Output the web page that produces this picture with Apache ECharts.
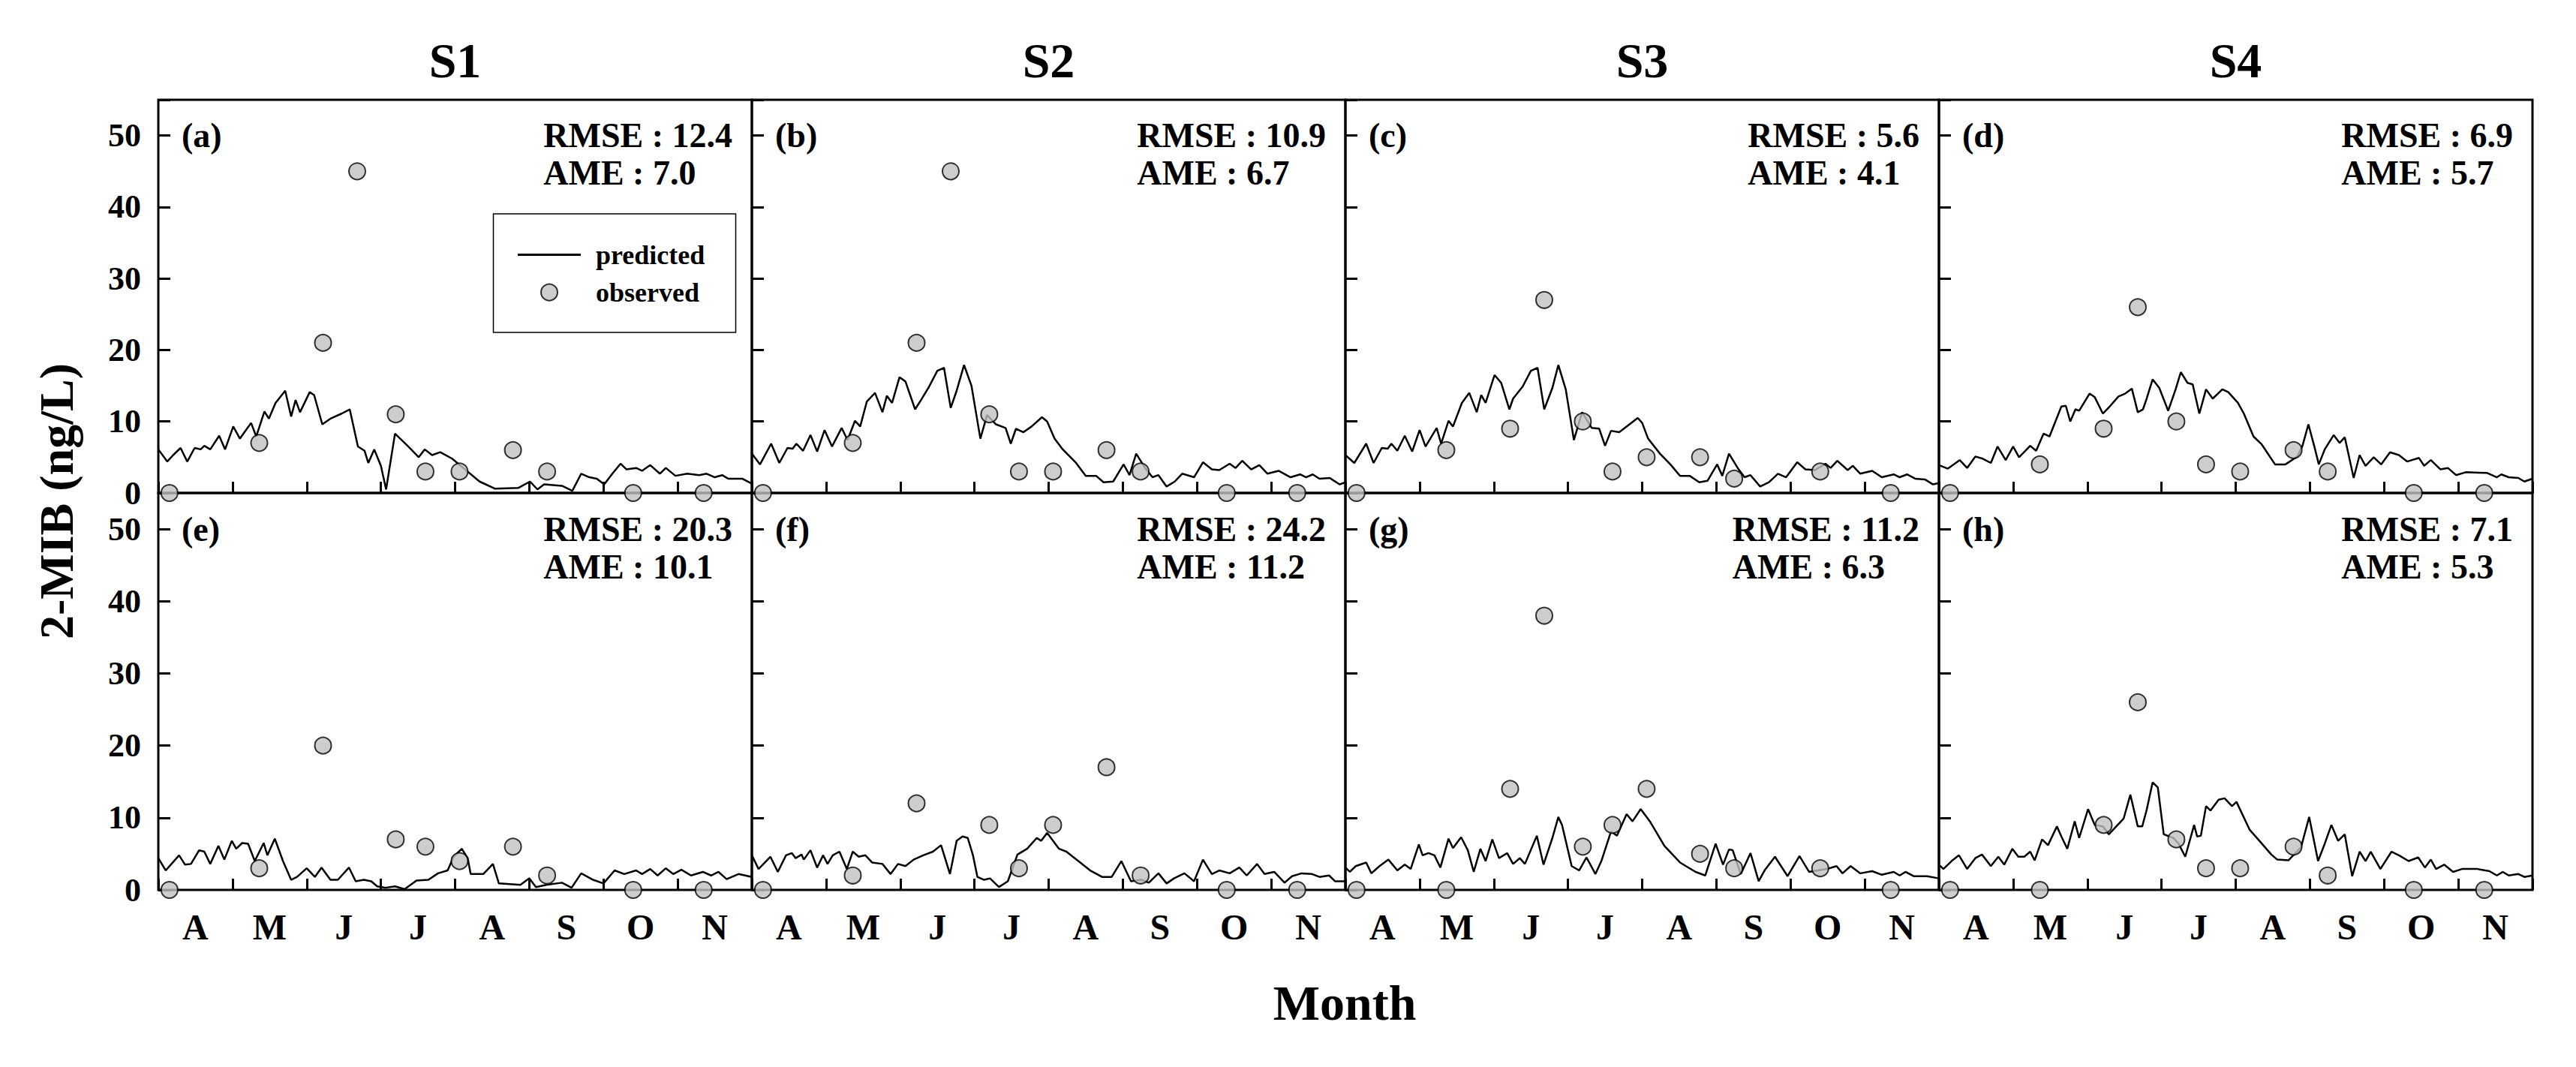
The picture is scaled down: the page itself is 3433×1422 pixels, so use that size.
<!DOCTYPE html>
<html>
<head>
<meta charset="utf-8">
<script src="https://cdn.jsdelivr.net/npm/echarts@6/dist/echarts.min.js"></script>
<style>
  html, body { margin: 0; padding: 0; background: #fff; }
  #chart { width: 3433px; height: 1422px; }
</style>
</head>
<body>
<div id="chart"></div>
<script>
// x is in month units counted from 1 April (0 = Apr 1, 8 = Nov 30)
const months = ['A', 'M', 'J', 'J', 'A', 'S', 'O', 'N'];
const sites = ['S1', 'S2', 'S3', 'S4'];
const tags = ['(a)', '(b)', '(c)', '(d)', '(e)', '(f)', '(g)', '(h)'];
const rmse = [12.4, 10.9, 5.6, 6.9, 20.3, 24.2, 11.2, 7.1];
const ame = [7.0, 6.7, 4.1, 5.7, 10.1, 11.2, 6.3, 5.3];

// sampling dates of the observations
const obsX = [0.15, 1.36, 2.22, 2.68, 3.20, 3.60, 4.06, 4.78, 5.24, 6.40, 7.35];
const obsA = [0, 7, 21, 45, 11, 3, 3, 6, 3, 0, 0];
const obsB = [0, 7, 21, 45, 11, 3, 3, 6, 3, 0, 0];
const obsC = [0, 6, 9, 27, 10, 3, 5, 5, 2, 3, 0];
const obsD = [0, 4, 9, 26, 10, 4, 3, 6, 3, 0, 0];
const obsE = [0, 3, 20, null, 7, 6, 4, 6, 2, 0, 0];
const obsF = [0, 2, 12, null, 9, 3, 9, 17, 2, 0, 0];
const obsG = [0, 0, 14, 38, 6, 9, 14, 5, 3, 3, 0];
const obsH = [0, 0, 9, 26, 7, 3, 3, 6, 2, 0, 0];

const predA = [[0.00,6.1],[0.12,4.4],[0.20,5.3],[0.30,6.3],[0.39,4.4],[0.49,6.3],[0.57,6.1],[0.62,6.6],[0.70,6.1],[0.82,8.0],[0.90,6.1],[1.01,9.3],[1.10,7.6],[1.25,9.8],[1.32,7.9],[1.43,11.4],[1.49,10.4],[1.58,12.6],[1.71,14.3],[1.79,10.7],[1.85,13.0],[1.91,11.3],[2.04,14.1],[2.10,13.7],[2.21,9.6],[2.32,10.4],[2.47,11.1],[2.58,11.7],[2.69,6.5],[2.78,5.9],[2.83,4.2],[2.91,6.1],[3.00,3.8],[3.07,0.5],[3.19,8.3],[3.37,6.5],[3.51,5.0],[3.59,6.1],[3.69,5.3],[3.80,5.7],[3.96,4.8],[4.11,3.5],[4.33,1.6],[4.54,0.6],[4.85,0.7],[5.01,1.6],[5.11,0.5],[5.20,1.2],[5.44,1.0],[5.58,0.3],[5.70,2.7],[5.81,2.2],[5.91,2.0],[6.01,1.2],[6.12,2.7],[6.23,4.1],[6.31,3.3],[6.44,3.5],[6.52,3.1],[6.63,3.9],[6.76,2.7],[6.84,3.5],[6.97,2.4],[7.13,2.7],[7.29,2.5],[7.39,2.7],[7.50,2.2],[7.60,2.5],[7.68,2.0],[7.87,2.0],[8.00,1.3]];
const predB = [[0.00,5.5],[0.11,4.0],[0.26,6.9],[0.37,4.2],[0.48,6.3],[0.55,6.2],[0.60,6.9],[0.69,5.9],[0.79,8.1],[0.88,5.8],[0.98,8.8],[1.08,6.5],[1.21,9.1],[1.29,7.4],[1.39,10.1],[1.46,9.3],[1.55,12.8],[1.66,14.0],[1.76,11.3],[1.82,13.6],[1.89,12.6],[1.99,16.2],[2.07,15.6],[2.20,11.7],[2.28,13.0],[2.39,14.9],[2.50,17.1],[2.59,17.5],[2.68,11.9],[2.76,14.3],[2.86,17.9],[2.96,15.0],[3.08,7.6],[3.17,10.9],[3.29,9.6],[3.42,9.1],[3.49,6.9],[3.56,9.0],[3.66,8.5],[3.77,9.3],[3.91,10.6],[3.98,10.0],[4.08,7.6],[4.19,6.1],[4.37,4.2],[4.50,2.4],[4.64,2.4],[4.74,1.5],[4.87,1.6],[5.01,4.0],[5.09,2.5],[5.18,5.5],[5.30,3.5],[5.40,2.2],[5.48,2.5],[5.59,0.9],[5.70,1.6],[5.80,2.7],[5.96,2.2],[6.08,4.3],[6.20,3.3],[6.30,3.2],[6.44,4.1],[6.52,3.5],[6.61,4.5],[6.73,3.3],[6.84,3.9],[6.95,2.7],[7.10,3.1],[7.26,2.2],[7.39,2.6],[7.47,2.2],[7.56,2.6],[7.65,2.0],[7.79,2.1],[7.92,1.2],[8.00,1.5]];
const predC = [[0.00,5.3],[0.12,4.2],[0.28,6.9],[0.38,4.2],[0.49,6.3],[0.57,6.2],[0.62,6.9],[0.70,5.9],[0.80,8.0],[0.90,5.8],[1.00,8.8],[1.08,6.5],[1.23,9.1],[1.29,6.9],[1.39,10.1],[1.45,9.3],[1.57,12.6],[1.67,14.0],[1.77,11.3],[1.83,13.7],[1.89,12.6],[2.01,16.5],[2.10,15.4],[2.21,11.7],[2.26,13.2],[2.39,14.9],[2.50,17.1],[2.59,17.5],[2.68,11.7],[2.79,14.7],[2.87,17.9],[2.97,14.5],[3.08,7.4],[3.19,11.3],[3.32,9.1],[3.42,9.0],[3.50,6.6],[3.58,8.7],[3.69,8.5],[3.79,9.3],[3.94,10.5],[4.00,9.8],[4.08,7.6],[4.24,5.5],[4.38,4.0],[4.51,2.4],[4.64,2.4],[4.77,1.5],[4.88,1.7],[5.01,4.0],[5.08,2.4],[5.17,5.5],[5.30,3.3],[5.38,2.2],[5.46,2.5],[5.59,0.9],[5.71,1.5],[5.83,2.7],[5.94,2.2],[6.09,4.3],[6.20,3.3],[6.33,3.2],[6.47,4.1],[6.54,3.5],[6.63,4.5],[6.77,3.2],[6.84,3.8],[6.94,2.7],[7.10,3.1],[7.23,2.2],[7.39,2.6],[7.47,2.2],[7.57,2.6],[7.68,2.0],[7.81,1.9],[7.92,1.2],[8.00,1.4]];
const predD = [[0.00,3.9],[0.12,3.4],[0.28,4.6],[0.38,3.5],[0.49,5.1],[0.59,4.8],[0.70,4.2],[0.79,6.5],[0.90,4.6],[1.00,6.5],[1.08,5.0],[1.23,6.6],[1.31,5.9],[1.41,8.3],[1.49,7.9],[1.65,12.1],[1.71,12.2],[1.77,10.0],[1.84,11.7],[1.89,11.5],[2.03,13.9],[2.10,13.4],[2.21,11.1],[2.31,12.2],[2.42,13.5],[2.51,13.9],[2.60,14.6],[2.68,11.3],[2.75,11.7],[2.80,13.2],[2.88,15.9],[2.97,14.7],[3.09,11.5],[3.19,14.5],[3.26,16.9],[3.35,15.4],[3.42,15.2],[3.51,11.1],[3.60,14.5],[3.69,13.2],[3.82,14.5],[3.90,14.1],[4.03,12.6],[4.11,11.1],[4.24,7.9],[4.35,6.8],[4.53,4.0],[4.67,4.0],[4.83,5.1],[4.90,6.6],[4.98,9.6],[5.06,6.5],[5.12,4.0],[5.20,6.1],[5.32,8.1],[5.40,7.0],[5.47,7.8],[5.59,2.1],[5.67,5.3],[5.75,3.8],[5.86,5.0],[5.96,4.0],[6.08,5.7],[6.20,5.3],[6.31,4.4],[6.47,4.9],[6.54,3.8],[6.63,4.6],[6.76,3.3],[6.86,3.5],[6.97,2.5],[7.10,2.9],[7.39,2.8],[7.52,2.2],[7.58,2.6],[7.68,2.2],[7.81,2.1],[7.89,1.6],[8.00,2.0]];
const predE = [[0.00,4.4],[0.10,2.7],[0.28,4.8],[0.36,3.5],[0.44,3.6],[0.55,5.5],[0.62,5.3],[0.70,3.6],[0.81,6.1],[0.89,4.2],[0.99,6.8],[1.05,5.7],[1.13,6.5],[1.21,6.4],[1.30,4.0],[1.42,6.5],[1.47,4.8],[1.57,7.1],[1.68,4.0],[1.79,1.4],[1.87,1.8],[2.00,3.0],[2.11,1.8],[2.20,3.1],[2.32,1.4],[2.42,1.4],[2.57,3.1],[2.66,1.2],[2.77,1.4],[2.87,1.2],[2.95,0.5],[3.06,0.3],[3.19,0.5],[3.32,0.1],[3.48,1.3],[3.64,1.4],[3.77,2.3],[3.90,2.7],[3.98,4.6],[4.09,5.7],[4.17,4.4],[4.21,2.2],[4.38,2.2],[4.51,3.6],[4.59,0.9],[4.88,0.7],[5.00,1.6],[5.09,0.4],[5.23,0.7],[5.44,1.0],[5.57,0.3],[5.70,2.3],[5.86,1.4],[6.00,0.9],[6.15,2.7],[6.28,2.2],[6.44,2.7],[6.52,2.2],[6.63,2.9],[6.73,2.0],[6.84,3.0],[6.94,2.2],[7.05,2.8],[7.18,2.0],[7.34,2.5],[7.45,2.0],[7.55,2.5],[7.66,1.5],[7.82,2.2],[8.00,1.8]];
const predF = [[0.00,4.8],[0.09,2.9],[0.25,4.6],[0.35,2.5],[0.46,4.8],[0.54,5.1],[0.59,4.4],[0.67,4.9],[0.70,4.2],[0.79,5.5],[0.88,3.1],[0.96,4.8],[1.02,3.6],[1.09,4.8],[1.18,5.3],[1.28,2.9],[1.36,5.3],[1.44,4.6],[1.53,4.8],[1.62,3.8],[1.76,3.6],[1.87,2.2],[1.97,3.6],[2.07,3.3],[2.18,4.2],[2.31,4.8],[2.44,5.3],[2.55,6.2],[2.67,2.2],[2.76,6.8],[2.84,7.4],[2.91,7.2],[2.98,4.8],[3.04,1.8],[3.13,1.4],[3.21,1.6],[3.33,0.4],[3.45,1.2],[3.58,4.9],[3.71,5.7],[3.84,7.2],[3.90,6.8],[3.98,7.9],[4.14,5.7],[4.24,5.3],[4.40,4.0],[4.56,2.7],[4.72,1.8],[4.85,1.8],[4.98,4.0],[5.11,1.2],[5.25,1.4],[5.35,1.0],[5.48,2.3],[5.59,0.9],[5.69,1.6],[5.83,2.3],[5.96,1.2],[6.08,4.2],[6.20,2.2],[6.30,2.7],[6.44,2.3],[6.57,3.1],[6.67,2.0],[6.81,3.6],[6.91,2.2],[7.04,2.5],[7.18,1.0],[7.28,1.9],[7.41,2.3],[7.55,2.2],[7.65,1.8],[7.78,2.0],[7.86,1.2],[8.00,1.2]];
const predG = [[0.00,3.1],[0.06,2.5],[0.14,3.3],[0.28,3.8],[0.35,2.3],[0.46,3.3],[0.58,4.2],[0.70,2.7],[0.80,3.5],[0.88,2.9],[0.99,6.3],[1.04,4.8],[1.12,5.1],[1.20,4.8],[1.28,3.1],[1.39,7.1],[1.45,5.8],[1.56,7.3],[1.65,5.5],[1.73,2.5],[1.82,5.7],[1.89,4.0],[1.98,7.0],[2.07,4.4],[2.18,5.1],[2.26,3.6],[2.35,4.4],[2.42,3.6],[2.58,7.5],[2.67,3.5],[2.79,7.2],[2.87,10.1],[2.92,9.0],[3.05,3.3],[3.15,2.7],[3.25,4.5],[3.37,2.2],[3.45,4.0],[3.58,8.1],[3.66,7.5],[3.79,10.5],[3.87,9.5],[3.98,11.2],[4.11,9.4],[4.30,6.1],[4.51,3.8],[4.72,2.5],[4.85,2.0],[4.99,6.4],[5.09,3.5],[5.17,5.6],[5.22,5.5],[5.33,2.2],[5.46,5.1],[5.57,1.2],[5.65,2.7],[5.79,4.6],[5.96,1.9],[6.12,4.7],[6.25,2.5],[6.49,2.9],[6.62,3.3],[6.70,2.3],[6.81,3.3],[6.94,2.3],[7.10,2.6],[7.23,2.1],[7.39,2.5],[7.47,2.0],[7.55,2.5],[7.66,1.9],[7.84,1.9],[8.00,1.6]];
const predH = [[0.00,3.5],[0.06,2.9],[0.17,4.0],[0.27,4.8],[0.38,2.9],[0.49,4.4],[0.58,4.9],[0.70,3.3],[0.80,4.6],[0.88,3.5],[0.99,5.7],[1.07,4.6],[1.15,4.6],[1.23,5.3],[1.29,4.1],[1.39,7.0],[1.47,6.2],[1.59,8.8],[1.65,7.4],[1.73,5.7],[1.83,9.5],[1.89,7.2],[2.01,11.2],[2.10,9.0],[2.21,8.8],[2.29,7.7],[2.39,8.8],[2.49,9.9],[2.58,13.2],[2.68,8.8],[2.74,8.8],[2.80,11.1],[2.88,14.9],[2.95,14.2],[3.03,7.7],[3.16,7.2],[3.23,6.4],[3.32,4.6],[3.44,9.0],[3.48,7.4],[3.53,7.5],[3.60,11.6],[3.66,11.0],[3.77,12.5],[3.85,12.7],[3.95,11.6],[4.01,12.2],[4.19,8.3],[4.32,6.8],[4.48,4.9],[4.56,4.2],[4.71,4.1],[4.88,5.9],[4.99,10.1],[5.11,4.0],[5.20,6.4],[5.29,9.0],[5.38,6.8],[5.47,7.7],[5.57,1.9],[5.67,5.3],[5.75,4.0],[5.82,5.3],[5.95,2.9],[6.10,5.3],[6.20,4.8],[6.33,4.0],[6.46,4.5],[6.55,3.1],[6.63,4.2],[6.70,2.9],[6.81,3.5],[6.93,2.5],[7.05,2.9],[7.26,2.9],[7.42,2.6],[7.52,2.0],[7.60,2.5],[7.68,2.0],[7.81,2.2],[7.89,1.8],[8.00,2.0]];

const preds = [predA, predB, predC, predD, predE, predF, predG, predH];
const obsAll = [obsA, obsB, obsC, obsD, obsE, obsF, obsG, obsH];

const W = 3433;
const colLeft = [211, 1002, 1793, 2584];
const colWidth = 791;
const rowTop = [133, 657];
const rowHeight = [524, 529];
const FONT = "'Liberation Serif', 'Times New Roman', serif";
const YMAX = 55;

const chart = echarts.init(document.getElementById('chart'), null, { renderer: 'svg' });

const grid = [], xAxis = [], yAxis = [], series = [], graphic = [];

preds.forEach((pred, i) => {
  const r = Math.floor(i / 4), c = i % 4;
  const left = colLeft[c], top = rowTop[r], h = rowHeight[r];
  grid.push({
    left: left, top: top, width: colWidth, height: h,
    show: true, borderColor: '#000', borderWidth: 3, backgroundColor: 'transparent'
  });
  // month ticks / labels
  xAxis.push({
    type: 'category', gridIndex: i, data: months, boundaryGap: true,
    axisLine: { show: false },
    axisTick: { show: true, inside: true, length: 15, interval: 0, lineStyle: { color: '#000', width: 3 } },
    axisLabel: {
      show: r === 1, interval: 0, margin: 25, color: '#000',
      fontFamily: FONT, fontWeight: 'bold', fontSize: 48
    },
    splitLine: { show: false }
  });
  // hidden value axis the data is plotted on
  xAxis.push({ type: 'value', gridIndex: i, min: 0, max: 8, show: false });
  yAxis.push({
    type: 'value', gridIndex: i, min: 0, max: YMAX, interval: 10,
    axisLine: { show: false },
    axisTick: { show: true, inside: true, length: 16, lineStyle: { color: '#000', width: 3 } },
    axisLabel: {
      show: c === 0, margin: 23, color: '#000',
      fontFamily: FONT, fontWeight: 'bold', fontSize: 44,
      formatter: v => (v > 50 ? '' : String(v))
    },
    splitLine: { show: false }
  });
  series.push({
    type: 'line', name: 'predicted', xAxisIndex: 2 * i + 1, yAxisIndex: i,
    data: pred, symbol: 'none', itemStyle: { color: '#000' },
    lineStyle: { color: '#000', width: 2.5 }, z: 2, animation: false
  });
  series.push({
    type: 'scatter', name: 'observed', xAxisIndex: 2 * i + 1, yAxisIndex: i,
    data: obsX.map((x, k) => [x, obsAll[i][k]]).filter(d => d[1] !== null),
    symbol: 'circle', symbolSize: 22, clip: false, z: 3, animation: false,
    itemStyle: { color: '#c0c0c0', borderColor: '#000', borderWidth: 2 }
  });

  const y50 = top + h - 50 * h / YMAX;
  graphic.push({
    type: 'text', x: left + 31, y: y50,
    style: { text: tags[i], fill: '#000', font: 'bold 46px ' + FONT, align: 'left', verticalAlign: 'middle' }
  });
  graphic.push({
    type: 'text', right: W - (left + colWidth - 26), top: y50 - 25,
    style: {
      text: 'RMSE : ' + rmse[i].toFixed(1) + '\nAME : ' + ame[i].toFixed(1),
      fill: '#000', font: 'bold 46px ' + FONT, lineHeight: 50, align: 'left'
    }
  });
});

sites.forEach((s, c) => {
  graphic.push({
    type: 'text', x: colLeft[c] + colWidth / 2, y: 80,
    style: { text: s, fill: '#000', font: 'bold 66px ' + FONT, align: 'center', verticalAlign: 'middle' }
  });
});

graphic.push({
  type: 'text', x: 75, y: 668, rotation: Math.PI / 2,
  style: { text: '2-MIB (ng/L)', fill: '#000', font: 'bold 64px ' + FONT, align: 'center', verticalAlign: 'middle' }
});
graphic.push({
  type: 'text', x: 1792, y: 1336,
  style: { text: 'Month', fill: '#000', font: 'bold 66px ' + FONT, align: 'center', verticalAlign: 'middle' }
});
// legend frame in panel (a)
graphic.push({
  type: 'rect', shape: { x: 657.5, y: 285, width: 323, height: 158 },
  style: { fill: 'none', stroke: '#000', lineWidth: 1.5 }
});

chart.setOption({
  animation: false,
  backgroundColor: '#fff',
  grid: grid,
  xAxis: xAxis,
  yAxis: yAxis,
  legend: {
    data: [
      { name: 'predicted', icon: 'path://M0,0 L84,0 L84,3 L0,3 Z', itemStyle: { color: '#000' } },
      { name: 'observed' }
    ],
    orient: 'vertical', left: 690, top: 321.6, padding: 0,
    itemWidth: 84, itemHeight: 22, itemGap: 14, selectedMode: false,
    textStyle: {
      color: '#000', fontFamily: FONT, fontWeight: 'bold', fontSize: 36,
      lineHeight: 36, padding: [0, 0, 0, 15]
    }
  },
  graphic: graphic,
  series: series
});
</script>
</body>
</html>
